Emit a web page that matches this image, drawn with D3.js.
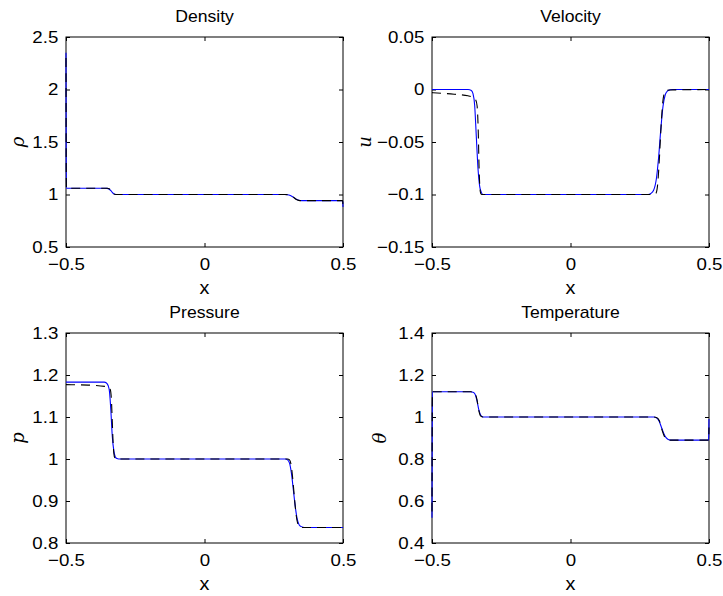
<!DOCTYPE html>
<html>
<head>
<meta charset="utf-8">
<script src="https://cdn.jsdelivr.net/npm/d3@7"></script>
<style>
  body { margin: 0; background: #fff; }
  svg { display: block; }
  text { font-family: "Liberation Sans", Arial, sans-serif; fill: #000; }
</style>
</head>
<body>
<svg width="723" height="596"></svg>
<script>
// values
var titles = ["Density", "Velocity", "Pressure", "Temperature"];
var yNames = ["\u03c1", "u", "p", "\u03b8"];
var xTicks = [-0.5, 0, 0.5];
var yDomains = [[0.5, 2.5], [-0.15, 0.05], [0.8, 1.3], [0.4, 1.4]];
var yTicks = [
  [0.5, 1, 1.5, 2, 2.5],
  [-0.15, -0.1, -0.05, 0, 0.05],
  [0.8, 0.9, 1, 1.1, 1.2, 1.3],
  [0.4, 0.6, 0.8, 1, 1.2, 1.4]
];

// density
var densX     = [-0.5, -0.4993, -0.4985, -0.36, -0.352, -0.344, -0.336, -0.328, -0.32, 0.29, 0.30, 0.31, 0.32, 0.33, 0.34, 0.35, 0.4985, 0.4993, 0.5];
var densBlue  = [2.35, 1.40, 1.06, 1.06, 1.058, 1.05, 1.03, 1.008, 1.0, 1.0, 0.998, 0.99, 0.975, 0.958, 0.946, 0.942, 0.942, 0.92, 0.88];
var densBlack = [2.30, 1.35, 1.06, 1.06, 1.059, 1.055, 1.03, 1.004, 1.0, 1.0, 0.999, 0.993, 0.977, 0.955, 0.944, 0.942, 0.942, 0.92, 0.87];

// velocity
var veloBlueX  = [-0.5, -0.37, -0.358, -0.352, -0.346, -0.34, -0.334, -0.328, -0.322, -0.316, -0.31, 0.28, 0.29, 0.30, 0.31, 0.318, 0.326, 0.334, 0.342, 0.35, 0.36, 0.37, 0.5];
var veloBlue   = [0, 0, -0.001, -0.004, -0.015, -0.045, -0.075, -0.092, -0.098, -0.1, -0.1, -0.1, -0.099, -0.096, -0.085, -0.065, -0.038, -0.016, -0.005, -0.0015, -0.0003, 0, 0];
var veloBlackX = [-0.5, -0.42, -0.37, -0.35, -0.342, -0.337, -0.333, -0.33, -0.327, -0.324, -0.32, 0.30, 0.308, 0.314, 0.32, 0.326, 0.332, 0.338, 0.345, 0.36, 0.5];
var veloBlack  = [-0.003, -0.0045, -0.006, -0.008, -0.01, -0.016, -0.04, -0.075, -0.094, -0.099, -0.1, -0.1, -0.099, -0.092, -0.07, -0.04, -0.015, -0.004, -0.001, -0.0005, 0];

// pressure
var presBlueX  = [-0.5, -0.362, -0.354, -0.348, -0.343, -0.338, -0.333, -0.327, -0.322, -0.316, -0.31, 0.292, 0.30, 0.307, 0.314, 0.321, 0.328, 0.335, 0.342, 0.35, 0.36, 0.5];
var presBlue   = [1.183, 1.183, 1.181, 1.175, 1.16, 1.115, 1.055, 1.018, 1.005, 1.001, 1.0, 1.0, 0.998, 0.99, 0.965, 0.925, 0.885, 0.856, 0.843, 0.839, 0.837, 0.837];
var presBlackX = [-0.5, -0.42, -0.36, -0.346, -0.34, -0.336, -0.333, -0.33, -0.327, -0.324, -0.318, 0.30, 0.307, 0.313, 0.319, 0.325, 0.331, 0.337, 0.343, 0.35, 0.5];
var presBlack  = [1.177, 1.176, 1.173, 1.17, 1.165, 1.14, 1.09, 1.04, 1.012, 1.003, 1.0, 1.0, 0.998, 0.985, 0.95, 0.905, 0.866, 0.845, 0.839, 0.837, 0.837];

// temperature
var tempX     = [-0.5, -0.4993, -0.4985, -0.36, -0.352, -0.345, -0.338, -0.331, -0.324, -0.316, 0.30, 0.31, 0.32, 0.33, 0.34, 0.35, 0.36, 0.4985, 0.4993, 0.5];
var tempBlue  = [0.52, 0.90, 1.12, 1.12, 1.118, 1.11, 1.08, 1.035, 1.008, 1.0, 1.0, 0.997, 0.98, 0.945, 0.912, 0.895, 0.89, 0.89, 0.93, 0.99];
var tempBlack = [0.55, 0.92, 1.12, 1.12, 1.119, 1.114, 1.085, 1.03, 1.004, 1.0, 1.0, 0.998, 0.985, 0.94, 0.905, 0.892, 0.89, 0.89, 0.91, 0.95];

var blueSeries  = [[densX, densBlue], [veloBlueX, veloBlue], [presBlueX, presBlue], [tempX, tempBlue]];
var blackSeries = [[densX, densBlack], [veloBlackX, veloBlack], [presBlackX, presBlack], [tempX, tempBlack]];

var svg = d3.select("svg");
var cols = [66, 432], rows = [37, 333];
var pw = 277, ph = 210;
var nameOffset = [-47, -66, -47, -51];
var stretch = "scale(1.1,1)";

function fmt(v) {
  var s = String(Math.abs(v));
  return (v < 0 ? "\u2212" : "") + s;
}

function pairs(s) {
  return s[0].map(function(x, i) { return [x, s[1][i]]; });
}

titles.forEach(function(title, k) {
  var left = cols[k % 2], top = rows[Math.floor(k / 2)];
  var x = d3.scaleLinear().domain([-0.5, 0.5]).range([0, pw]);
  var y = d3.scaleLinear().domain(yDomains[k]).range([ph, 0]);

  var g = svg.append("g").attr("transform", "translate(" + left + "," + top + ")");

  g.append("defs").append("clipPath").attr("id", "clip" + k)
    .append("rect").attr("x", -1).attr("y", -1).attr("width", pw + 2).attr("height", ph + 2);

  // axes, ticks pointing inside on all four sides
  g.append("g").attr("transform", "translate(0," + ph + ")")
    .call(d3.axisBottom(x).tickValues(xTicks).tickSize(-4).tickPadding(11).tickFormat(fmt));
  g.append("g")
    .call(d3.axisLeft(y).tickValues(yTicks[k]).tickSize(-4).tickPadding(7).tickFormat(fmt));
  g.append("g").call(d3.axisTop(x).tickValues(xTicks).tickSize(-4).tickFormat(""));
  g.append("g").attr("transform", "translate(" + pw + ",0)")
    .call(d3.axisRight(y).tickValues(yTicks[k]).tickSize(-4).tickFormat(""));

  g.selectAll(".domain").remove();
  g.selectAll(".tick line").attr("stroke", "#000").attr("stroke-width", 1);
  g.selectAll(".tick text")
    .attr("font-size", 17)
    .attr("font-family", "Liberation Sans, Arial, sans-serif")
    .attr("fill", "#000")
    .attr("transform", stretch);

  g.append("rect")
    .attr("width", pw).attr("height", ph)
    .attr("fill", "none").attr("stroke", "#000").attr("stroke-width", 1);

  // curves
  var line = d3.line()
    .x(function(d) { return x(d[0]); })
    .y(function(d) { return y(d[1]); })
    .curve(d3.curveMonotoneX);

  g.append("path")
    .datum(pairs(blueSeries[k]))
    .attr("clip-path", "url(#clip" + k + ")")
    .attr("fill", "none").attr("stroke", "#0000ff").attr("stroke-width", 1.1)
    .attr("d", line);

  g.append("path")
    .datum(pairs(blackSeries[k]))
    .attr("clip-path", "url(#clip" + k + ")")
    .attr("fill", "none").attr("stroke", "#000").attr("stroke-width", 1.1)
    .attr("stroke-dasharray", "9,6")
    .attr("d", line);

  // labels
  g.append("text")
    .attr("transform", "translate(" + (pw / 2) + ",-15) " + stretch)
    .attr("text-anchor", "middle").attr("font-size", 16)
    .text(title);

  g.append("text")
    .attr("transform", "translate(" + (pw / 2) + "," + (ph + 47) + ") " + stretch)
    .attr("text-anchor", "middle").attr("font-size", 18)
    .text("x");

  g.append("text")
    .attr("transform", "translate(" + nameOffset[k] + "," + (ph / 2) + ") rotate(-90)")
    .attr("text-anchor", "middle")
    .attr("dy", "0.3em")
    .attr("font-size", 18)
    .attr("font-style", "italic")
    .style("font-family", "'DejaVu Serif', 'Liberation Serif', serif")
    .text(yNames[k]);
});
</script>
</body>
</html>
